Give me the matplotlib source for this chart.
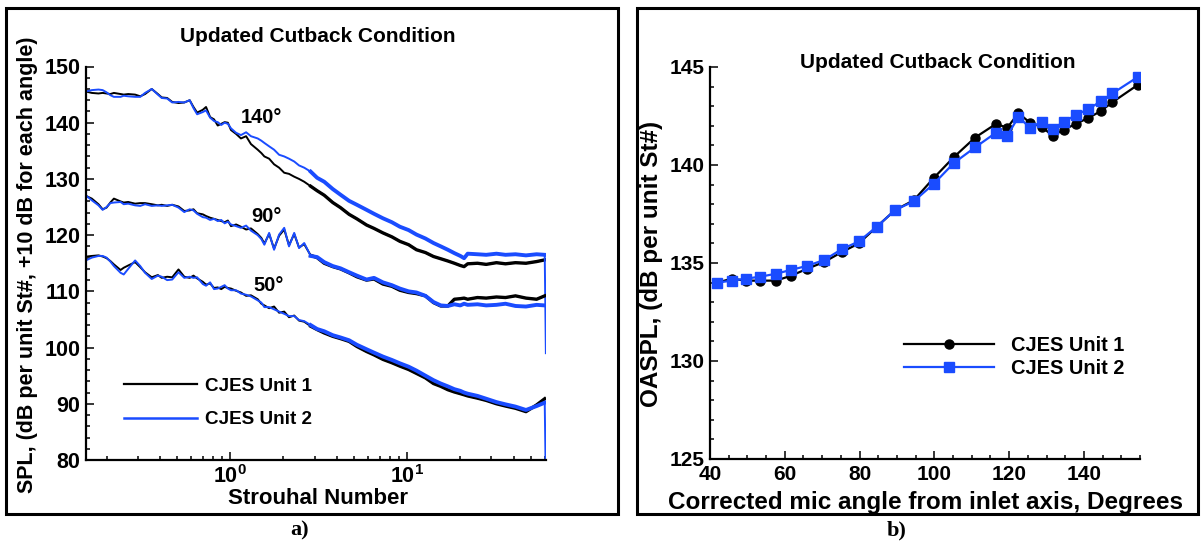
import matplotlib
matplotlib.use("Agg")
import matplotlib.pyplot as plt
from matplotlib.patches import Rectangle
from matplotlib.ticker import MultipleLocator, LogLocator, NullFormatter

plt.rcParams.update({"font.family": "Liberation Sans", "font.weight": "bold",
                     "axes.labelweight": "bold",
                     "mathtext.fontset": "custom", "mathtext.rm": "Liberation Sans:bold",
                     "mathtext.bf": "Liberation Sans:bold", "mathtext.it": "Liberation Sans:bold"})
BLUE = "#1a4cff"; INK = "black"

# ---- panel a) spectra: Strouhal grid and SPL per angle / unit ----
st = [0.155, 0.165, 0.18, 0.19, 0.2, 0.21, 0.22, 0.24, 0.25, 0.265, 0.29, 0.31, 0.33,
      0.36, 0.39, 0.41, 0.44, 0.47, 0.51, 0.55, 0.59, 0.62, 0.65, 0.7, 0.73, 0.77,
      0.81, 0.85, 0.89, 0.93, 0.97, 1.01, 1.08, 1.15, 1.23, 1.31, 1.43, 1.5, 1.56,
      1.66, 1.77, 1.89, 2.02, 2.15, 2.3, 2.45, 2.62, 2.85, 3.1, 3.4, 3.8, 4.2, 4.7,
      5.2, 5.9, 6.5, 7.3, 8.2, 9.1, 10.2, 11.3, 12.7, 14.1, 15.5, 17.0, 18.5, 20.0,
      21.0, 22.0, 25, 28, 32, 36, 41, 47, 54, 60, 60.9]

spl140_u1 = [145.5, 145.3, 145.2, 145.3, 145.2, 145.1, 145.3, 145.1, 145.0, 145.1, 145.0, 144.7, 145.1,
             146.0, 145.1, 144.5, 144.4, 143.7, 143.5, 143.6, 144.0, 142.8, 141.8, 142.3, 142.8, 141.0,
             140.6, 139.5, 139.8, 140.1, 140.0, 138.7, 138.0, 137.2, 137.6, 136.2, 135.2, 134.6, 134.0,
             133.6, 132.6, 132.0, 131.1, 130.9, 130.4, 130.0, 129.5, 128.7, 127.9, 127.1, 125.8, 124.9, 123.7,
             122.9, 121.8, 121.2, 120.4, 119.7, 118.9, 118.3, 117.4, 116.9, 116.2, 115.8, 115.4, 115.0, 114.6,
             114.4, 114.9, 115.0, 114.8, 115.1, 114.9, 115.1, 115.0, 115.3, 115.6, 115.6]
spl140_u2 = [145.6, 145.8, 145.9, 145.8, 145.4, 144.9, 144.6, 144.6, 144.8, 144.7, 144.6, 144.6, 145.3,
             146.0, 145.0, 144.4, 144.3, 143.6, 143.7, 143.6, 144.0, 142.6, 141.5, 141.9, 142.2, 140.9,
             140.3, 140.1, 139.6, 140.0, 139.8, 139.0, 138.2, 137.8, 138.3, 137.6, 137.2, 136.8, 136.4,
             135.8, 135.2, 134.3, 134.0, 133.6, 133.1, 132.4, 132.0, 131.3, 130.2, 129.5, 128.2, 127.2, 126.1,
             125.4, 124.5, 123.8, 123.0, 122.3, 121.5, 120.9, 120.1, 119.4, 118.6, 118.0, 117.4, 116.8, 116.3,
             115.9, 116.7, 116.6, 116.5, 116.7, 116.5, 116.6, 116.4, 116.6, 116.5, 99.0]
spl90_u1 = [126.9, 126.5, 125.5, 124.6, 124.9, 125.8, 126.5, 126.0, 125.8, 125.9, 125.6, 125.7, 125.7,
            125.5, 125.3, 125.4, 125.2, 125.4, 125.1, 124.3, 124.4, 124.6, 123.9, 123.7, 123.4, 123.1,
            122.9, 122.7, 122.5, 122.3, 122.6, 121.6, 121.9, 121.5, 121.0, 121.2, 120.2, 119.5, 118.5,
            120.2, 117.6, 119.9, 121.0, 118.2, 120.2, 117.8, 118.4, 116.4, 116.0, 115.0, 114.4, 114.0, 113.3,
            112.6, 112.0, 112.2, 111.3, 110.9, 110.2, 109.8, 109.6, 109.2, 108.0, 107.4, 107.4, 108.6, 108.7,
            108.8, 108.6, 108.9, 108.8, 109.0, 108.9, 109.2, 108.8, 108.6, 109.2, 109.2]
spl90_u2 = [126.9, 126.2, 125.3, 124.5, 125.0, 125.7, 125.8, 125.9, 125.5, 125.6, 125.3, 125.2, 125.5,
            125.2, 125.3, 125.2, 125.3, 125.4, 124.9, 124.1, 124.6, 124.4, 123.8, 123.2, 123.1, 122.7,
            122.9, 122.5, 122.7, 122.1, 122.4, 121.9, 121.6, 121.3, 121.7, 120.8, 120.0, 119.3, 118.3,
            120.4, 117.4, 120.1, 121.3, 118.0, 120.4, 117.7, 118.6, 116.3, 116.1, 115.2, 114.5, 114.1, 113.4,
            112.8, 112.1, 112.4, 111.6, 111.1, 110.5, 110.0, 109.8, 109.2, 108.1, 107.5, 107.4, 107.7, 107.5,
            107.8, 107.6, 107.7, 107.5, 107.6, 107.8, 107.4, 107.3, 107.6, 107.5, 107.5]
spl50_u1 = [116.2, 116.3, 116.4, 116.2, 115.9, 115.4, 114.8, 113.8, 114.2, 114.6, 115.2, 114.3, 113.4,
            112.5, 112.9, 112.4, 112.6, 112.5, 113.9, 112.6, 112.4, 112.8, 112.3, 111.7, 111.2, 111.4,
            110.6, 110.7, 110.4, 110.8, 110.6, 110.5, 110.1, 109.8, 109.2, 109.3, 108.6, 107.8, 107.5,
            107.0, 107.3, 106.2, 106.4, 105.4, 105.7, 104.8, 104.6, 103.8, 103.2, 102.6, 102.0, 101.6, 101.1,
            100.2, 99.3, 98.7, 97.9, 97.3, 96.7, 96.1, 95.4, 94.6, 93.6, 93.1, 92.5, 92.1, 91.8,
            91.6, 91.4, 91.0, 90.6, 90.0, 89.6, 89.2, 88.6, 89.8, 90.9, 90.9]
spl50_u2 = [115.6, 116.0, 116.3, 116.3, 116.0, 115.3, 114.5, 113.3, 113.0, 114.0, 115.5, 114.5, 113.3,
            112.2, 112.8, 112.6, 112.0, 112.1, 113.4, 112.4, 112.6, 112.4, 112.5, 111.3, 111.0, 111.6,
            110.4, 110.5, 110.8, 111.1, 110.5, 110.2, 110.2, 109.6, 109.4, 109.1, 108.4, 108.0, 107.2,
            107.2, 106.8, 106.4, 106.0, 105.6, 105.6, 104.9, 104.7, 104.0, 103.3, 102.9, 102.2, 101.8, 101.3,
            100.5, 99.7, 99.1, 98.4, 97.8, 97.2, 96.6, 95.9, 95.0, 94.2, 93.6, 93.1, 92.6, 92.3,
            92.0, 91.8, 91.4, 90.9, 90.3, 89.9, 89.5, 88.9, 89.6, 90.2, 75.0]

angle_labels = ["140\u00b0", "90\u00b0", "50\u00b0"]
angle_label_pos = [(1.14, 140.9), (1.31, 123.4), (1.35, 111.0)]

# ---- panel b) OASPL vs corrected angle ----
mic_angle = [42.0, 45.8, 49.5, 53.4, 57.6, 61.7, 65.9, 70.5, 75.2, 79.8, 84.6, 89.5, 94.5, 99.9,
             105.2, 110.9, 116.5, 119.5, 122.5, 125.6, 128.7, 131.6, 134.7, 137.8, 141.2, 144.5, 147.6, 154.5]
oaspl_u1 = [134.0, 134.2, 134.1, 134.1, 134.1, 134.35, 134.7, 135.05, 135.55, 136.0, 136.85, 137.7, 138.2, 139.35,
            140.4, 141.4, 142.1, 141.9, 142.65, 142.15, 141.95, 141.5, 141.8, 142.1, 142.4, 142.75, 143.2, 144.1]
oaspl_u2 = [134.0, 134.1, 134.2, 134.3, 134.45, 134.65, 134.85, 135.15, 135.7, 136.1, 136.85, 137.7, 138.15, 139.05,
            140.1, 140.9, 141.65, 141.5, 142.45, 141.9, 142.2, 141.85, 142.2, 142.55, 142.85, 143.25, 143.65, 144.5]

W, H = 1201, 546
fig = plt.figure(figsize=(W / 100, H / 100), dpi=100)

def frac(x0, y0, x1, y1):
    return [x0 / W, 1 - y1 / H, (x1 - x0) / W, (y1 - y0) / H]

def style(ax, fs):
    for sp in ["top", "right"]:
        ax.spines[sp].set_visible(False)
    for sp in ["left", "bottom"]:
        ax.spines[sp].set_linewidth(1.6)
    ax.tick_params(which="both", direction="in", width=1.1, labelsize=fs, pad=4)
    ax.tick_params(which="major", length=6)
    ax.tick_params(which="minor", length=3)

# frames round each panel
for x0, x1 in [(6, 618), (637, 1198)]:
    fig.add_artist(Rectangle((x0 / W, 1 - 514 / H), (x1 - x0) / W, (514 - 8) / H,
                             transform=fig.transFigure, fill=False, lw=2.2, ec=INK))

# ---- a) ----
ax1 = fig.add_axes(frac(86, 66.5, 546, 460))
thick = [i for i, s in enumerate(st) if s >= 2.8]
for u1, u2 in [(spl140_u1, spl140_u2), (spl90_u1, spl90_u2), (spl50_u1, spl50_u2)]:
    ax1.plot(st, u1, color=INK, lw=1.4)
    ax1.plot([st[i] for i in thick[:-1]], [u1[i] for i in thick[:-1]], color=INK, lw=2.4)
    ax1.plot(st, u2, color=BLUE, lw=1.4)
    ax1.plot([st[i] for i in thick[:-1]], [u2[i] for i in thick[:-1]], color=BLUE, lw=2.8)
ax1.plot([], [], color=INK, lw=1.6, label="CJES Unit 1")
ax1.plot([], [], color=BLUE, lw=1.8, label="CJES Unit 2")
ax1.set_xscale("log")
ax1.set_xlim(0.153, 61)
ax1.set_ylim(80, 150)
ax1.set_yticks(range(80, 151, 10))
ax1.yaxis.set_minor_locator(MultipleLocator(2))
ax1.set_xticks([1, 10])
ax1.set_xticklabels([r"$10^{0}$", r"$10^{1}$"])
ax1.xaxis.set_minor_locator(LogLocator(base=10, subs=range(2, 10)))
ax1.xaxis.set_minor_formatter(NullFormatter())
style(ax1, 15.5)
for txt, (x, y) in zip(angle_labels, angle_label_pos):
    ax1.text(x, y, txt, ha="left", va="center", fontsize=14.5)
ax1.legend(loc="center left", bbox_to_anchor=(0.045, 0.145), frameon=False, fontsize=13.6,
           handlelength=3.9, handletextpad=0.4, labelspacing=0.85)
ax1.set_xlabel("Strouhal Number", fontsize=16, fontweight="bold")
ax1.xaxis.label.set_va("center")
ax1.xaxis.set_label_coords(0.504, -0.097)
ax1.set_ylabel("SPL, (dB per unit St#, +10 dB for each angle)", fontsize=15.5, fontweight="bold")
ax1.yaxis.label.set_va("center")
ax1.yaxis.set_label_coords(-0.128, 0.496)
fig.text(318 / W, 1 - 37 / H, "Updated Cutback Condition", ha="center", va="center", fontsize=15)

# ---- b) ----
ax2 = fig.add_axes(frac(710, 67, 1140, 459))
ax2.plot(mic_angle, oaspl_u1, color=INK, lw=1.6, marker="o", ms=6.5, label="CJES Unit 1")
ax2.plot(mic_angle, oaspl_u2, color=BLUE, lw=1.6, marker="s", ms=6.5, label="CJES Unit 2")
ax2.set_xlim(40, 155)
ax2.set_ylim(125, 145)
ax2.set_xticks(range(40, 141, 20))
ax2.xaxis.set_minor_locator(MultipleLocator(5))
ax2.set_yticks(range(125, 146, 5))
ax2.yaxis.set_minor_locator(MultipleLocator(1))
style(ax2, 15)
ax2.legend(loc="center left", bbox_to_anchor=(0.41, 0.26), frameon=False, fontsize=14.4,
           handlelength=4.5, handletextpad=0.85, labelspacing=0.22)
ax2.set_xlabel("Corrected mic angle from inlet axis, Degrees", fontsize=17.5, fontweight="bold")
ax2.xaxis.label.set_va("center")
ax2.xaxis.set_label_coords(0.502, -0.11)
ax2.set_ylabel("OASPL, (dB per unit St#)", fontsize=17.5, fontweight="bold")
ax2.yaxis.label.set_va("center")
ax2.yaxis.set_label_coords(-0.135, 0.497)
fig.text(938 / W, 1 - 63 / H, "Updated Cutback Condition", ha="center", va="center", fontsize=15)

# panel letters
for x, s in [(300, "a)"), (897, "b)")]:
    fig.text(x / W, 1 - 530 / H, s, ha="center", va="center", fontsize=16,
             family="Liberation Serif", weight="bold")

fig.savefig("out.png", dpi=100)
